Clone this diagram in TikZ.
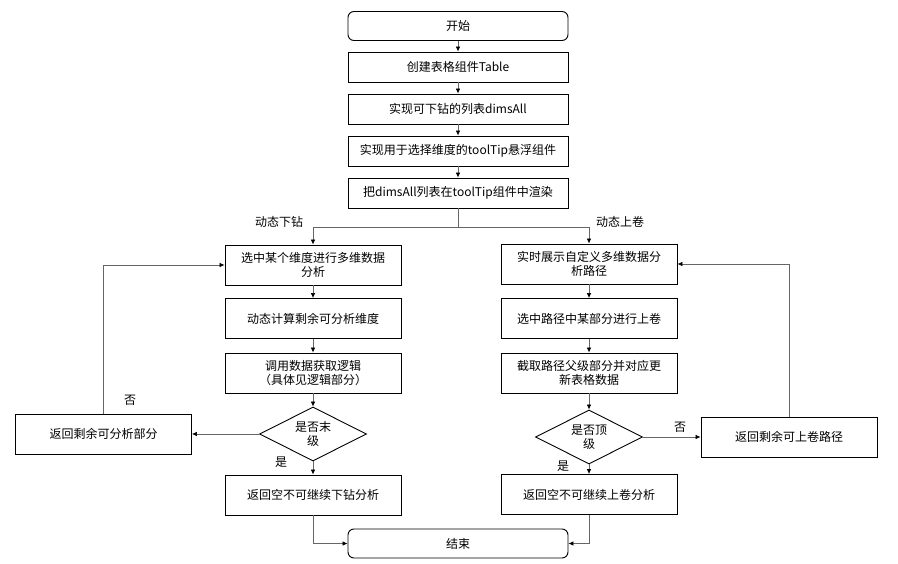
\documentclass[tikz,border=0pt]{standalone}
\usepackage{fontspec}
\setmainfont{Noto Sans CJK SC}
\usetikzlibrary{shapes.geometric, arrows, arrows.meta, positioning}
\tikzstyle{startstop} = [draw, line width=0.9pt, rounded corners=6pt, minimum width=220pt, minimum height=29pt, align=center]
\tikzstyle{process}   = [draw, line width=0.9pt, minimum width=220pt, minimum height=30pt, align=center]
\tikzstyle{branch}    = [process, minimum width=176pt, minimum height=40pt]
\tikzstyle{decision}  = [draw, line width=0.9pt, diamond, aspect=2, inner sep=0pt, minimum width=107pt, minimum height=54pt, align=center]
\tikzstyle{arrow}     = [line width=0.7pt, draw=black!60, -{Latex[length=5pt,width=4.5pt,black]}]
\tikzstyle{line}      = [line width=0.7pt, draw=black!60]
\tikzstyle{tag}       = [inner sep=1pt]

\begin{document}
\begin{tikzpicture}[x=1pt, y=-1pt, font=\fontsize{12}{14}\selectfont]
\useasboundingbox (0,0) rectangle (898,564);

% main column
\node[startstop] (start)  at (458,26)  {开始};
\node[process]   (table)  at (458,67)  {创建表格组件Table};
\node[process]   (dims)   at (458,109) {实现可下钻的列表dimsAll};
\node[process]   (tip)    at (458,151) {实现用于选择维度的toolTip悬浮组件};
\node[process]   (render) at (458,193) {把dimsAll列表在toolTip组件中渲染};
\coordinate (split) at (458,227);

% drill down
\node[branch]   (L1)    at (313,265)   {选中某个维度进行多维数据\\分析};
\node[branch]   (L2)    at (313,318.5) {动态计算剩余可分析维度};
\node[branch]   (L3)    at (313,373)   {调用数据获取逻辑\\（具体见逻辑部分）};
\node[decision] (Ldec)  at (313,434)   {是否末\\级};
\node[branch]   (Lback) at (103.5,434) {返回剩余可分析部分};
\node[branch]   (Lend)  at (313,495)   {返回空不可继续下钻分析};

% roll up
\node[branch]   (R1)    at (589,264)   {实时展示自定义多维数据分\\析路径};
\node[branch]   (R2)    at (589,318.5) {选中路径中某部分进行上卷};
\node[branch]   (R3)    at (589,373)   {截取路径父级部分并对应更\\新表格数据};
\node[decision] (Rdec)  at (589,437)   {是否顶\\级};
\node[branch]   (Rback) at (789,437)   {返回剩余可上卷路径};
\node[branch]   (Rend)  at (589,494.5) {返回空不可继续上卷分析};

\node[startstop] (stop) at (458,543.5) {结束};

% labels
\node[tag] (downlbl) at (279,222) {动态下钻};
\node[tag] (uplbl)   at (620,222) {动态上卷};
\node[tag] (Lno)     at (130,400) {否};
\node[tag] (Lyes)    at (281,462) {是};
\node[tag] (Rno)     at (680,427) {否};
\node[tag] (Ryes)    at (563,466) {是};

% connectors
\draw[arrow] (start) -- (table);
\draw[arrow] (table) -- (dims);
\draw[arrow] (dims) -- (tip);
\draw[arrow] (tip) -- (render);
\draw[line]  (render) -- (split);
\draw[arrow] (split) -| (L1.north);
\draw[arrow] (split) -| (R1.north);

\draw[arrow] (L1) -- (L2);
\draw[arrow] (L2) -- (L3);
\draw[arrow] (L3) -- (Ldec);
\draw[arrow] (Ldec) -- (Lend);
\draw[arrow] (Ldec.west) -- (Lback.east);
\draw[arrow] (Lback.north) |- (L1.west);

\draw[arrow] (R1) -- (R2);
\draw[arrow] (R2) -- (R3);
\draw[arrow] (R3) -- (Rdec);
\draw[arrow] (Rdec) -- (Rend);
\draw[arrow] (Rdec.east) -- (Rback.west);
\draw[arrow] (Rback.north) |- (R1.east);

\draw[arrow] (Lend.south) |- (stop.west);
\draw[arrow] (Rend.south) |- (stop.east);

\end{tikzpicture}
\end{document}
